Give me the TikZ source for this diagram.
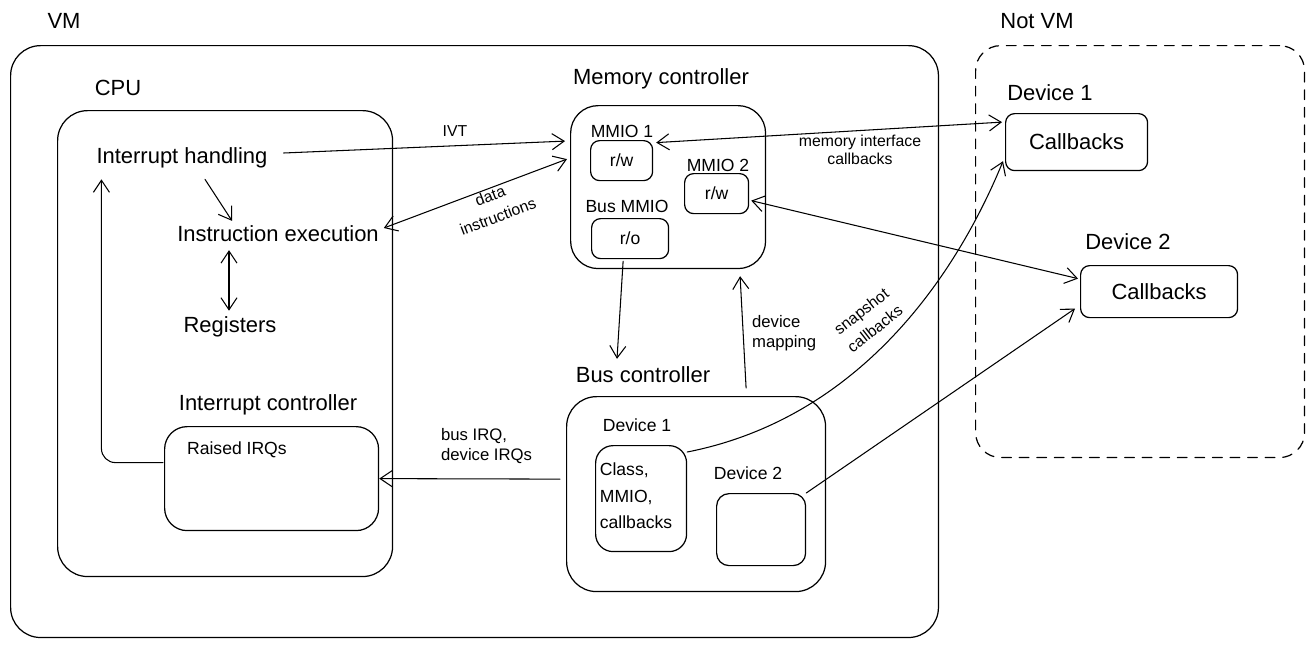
\documentclass[tikz,border=0pt]{standalone}
\usepackage{fontspec}
\setmainfont{Liberation Sans}
\usetikzlibrary{arrows.meta,positioning,calc}

\begin{document}
\begin{tikzpicture}[
		x=0.02cm,
		y=-0.02cm,
		>={Straight Barb[length=2.4mm,width=3.2mm]},
		line cap=round,
		line join=round,
		frame/.style={draw,line width=0.7pt,rounded corners=0.6cm,anchor=north west,inner sep=0pt},
		smallbox/.style={draw,line width=0.7pt,rounded corners=0.18cm,anchor=north west,inner sep=0pt,font=\fontsize{10}{12}\selectfont},
		bigtext/.style={font=\fontsize{12.5}{15}\selectfont,inner sep=1pt},
		smalltext/.style={font=\fontsize{10}{12}\selectfont,inner sep=1pt},
		note/.style={font=\fontsize{9}{10.5}\selectfont,inner sep=1pt,align=center},
		tilted/.style={note,font=\fontsize{9}{12.5}\selectfont,inner sep=0pt},
		link/.style={->,line width=0.6pt},
		link2/.style={<->,line width=0.6pt}
	]
	
	% Page size
	\useasboundingbox (0,0) rectangle (1314,647);
	
	% Outer frames
	\node[frame,minimum width=18.56cm,minimum height=11.84cm] (vm) at (10,45) {};
	\node[frame,dashed,dash pattern=on 5.5pt off 4.5pt,rounded corners=0.5cm,minimum width=6.58cm,minimum height=8.24cm] (notvm) at (975,45) {};
	\node[bigtext] (vmlabel) at (64,21) {VM};
	\node[bigtext] (notvmlabel) at (1037,21) {Not VM};
	
	% CPU
	\node[frame,minimum width=6.7cm,minimum height=9.32cm] (cpu) at (57,110) {};
	\node[bigtext] (cpulabel) at (118,88) {CPU};
	\node[bigtext] (ih) at (182,158) {Interrupt handling};
	\node[bigtext] (ie) at (278,234) {Instruction execution};
	\node[bigtext] (reg) at (230,327) {Registers};
	\node[bigtext] (iclabel) at (268,405) {Interrupt controller};
	\node[frame,rounded corners=0.45cm,minimum width=4.28cm,minimum height=2.08cm] (irq) at (164,426) {};
	\node[smalltext,anchor=west] (irqtext) at (185,450) {Raised IRQs};
	
	% Memory controller
	\node[bigtext] (memlabel) at (661,79) {Memory controller};
	\node[frame,rounded corners=0.55cm,minimum width=3.9cm,minimum height=3.26cm] (mem) at (570,105) {};
	\node[smalltext] (mmioalabel) at (622,131) {MMIO 1};
	\node[smallbox,minimum width=1.24cm,minimum height=0.8cm] (mmioa) at (590,140) {r/w};
	\node[smalltext] (mmioblabel) at (718,165) {MMIO 2};
	\node[smallbox,minimum width=1.28cm,minimum height=0.8cm] (mmiob) at (684,173) {r/w};
	\node[smalltext] (busmmiolabel) at (627,206) {Bus MMIO};
	\node[smallbox,minimum width=1.54cm,minimum height=0.8cm] (ro) at (591,218) {r/o};
	
	% Bus controller
	\node[bigtext] (busl) at (643,375) {Bus controller};
	\node[frame,minimum width=5.18cm,minimum height=3.9cm] (bus) at (566,396) {};
	\node[smalltext] (devalabel) at (637,425) {Device 1};
	\node[frame,rounded corners=0.35cm,minimum width=1.82cm,minimum height=2.12cm] (deva) at (595,445) {};
	\node[smalltext,align=left,font=\fontsize{10}{15}\selectfont] (devatext) at (636,496) {Class,\\MMIO,\\callbacks};
	\node[smalltext] (devblabel) at (748,473) {Device 2};
	\node[frame,rounded corners=0.25cm,minimum width=1.78cm,minimum height=1.44cm] (devb) at (716,493) {};
	
	% Devices outside the VM
	\node[bigtext] (cbalabel) at (1050,93) {Device 1};
	\node[smallbox,font=\fontsize{12.5}{15}\selectfont,minimum width=2.84cm,minimum height=1.14cm] (cba) at (1005,113) {Callbacks};
	\node[bigtext] (cbblabel) at (1128,242) {Device 2};
	\node[smallbox,font=\fontsize{12.5}{15}\selectfont,minimum width=3.14cm,minimum height=1.04cm] (cbb) at (1080,265) {Callbacks};
	
	% Inside the CPU
	\draw[link] ($(ih.south)+(23,9)$) -- ($(ie.north)+(-46,-3)$);
	\draw[link2] ($(reg.north |- ie.south)+(-1,6)$) -- ($(reg.north)+(-1,-4)$);
	\draw[link,rounded corners=8pt] ($(irq.west)+(-1,-16)$) -| ($(ih.south west)+(7,9)$);
	
	% CPU to memory
	\draw[link] ($(ih.east)+(14,-5)$) -- ($(mem.west)+(-5,-46)$);
	\node[note] (ivt) at (455,131) {IVT};
	\draw[link2] ($(ie.east)+(3,-6)$) -- ($(mem.west)+(-3,-28)$);
	\node[tilted,rotate=21] (datalabel) at (494,206) {data\\instructions};
	
	% Memory and bus
	\draw[link] ($(ro.south)+(-7,2)$) -- ($(busl.north)+(-26,-6)$);
	\draw[link] ($(bus.north)+(50,-8)$) -- ($(mem.south)+(72,7)$);
	\node[note,align=left,anchor=west,font=\fontsize{9.5}{11.5}\selectfont] (maplabel) at (750,333) {device\\mapping};
	
	% Bus to interrupt controller
	\draw[link] ($(bus.west)+(-6,-15)$) -- (irq.east);
	\node[note,align=left,anchor=west,font=\fontsize{9.5}{11.5}\selectfont] (irqlabel) at (439,446) {bus IRQ,\\device IRQs};
	
	% Callbacks to devices outside
	\draw[link2] ($(mmioa.east)+(3,-18)$) -- ($(cba.west)+(-3,-20)$);
	\node[note] (memiflabel) at (860,150) {memory interface\\callbacks};
	\draw[link2] ($(mmiob.east)+(2,7)$) -- ($(cbb.west)+(-2,-13)$);
	\draw[link] ($(deva.north east)+(0,7)$) .. controls (850,420) and (950,290) .. ($(cba.south west)+(-2,-10)$);
	\node[tilted,rotate=38] (snaplabel) at (868,320) {snapshot\\callbacks};
	\draw[link] (devb.north east) -- ($(cbb.west)+(-5,17)$);
	
\end{tikzpicture}
\end{document}
